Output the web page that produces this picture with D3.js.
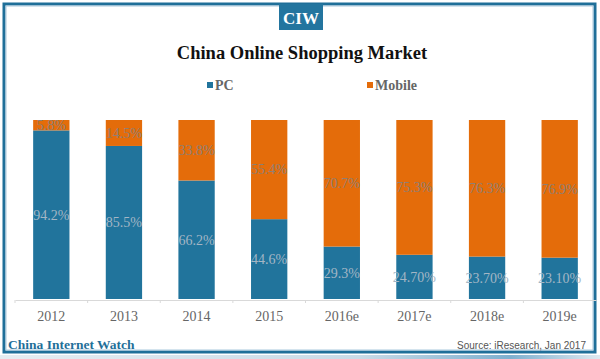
<!DOCTYPE html>
<html><head><meta charset="utf-8">
<script src="https://cdn.jsdelivr.net/npm/d3@7"></script>
<style>body{margin:0;background:#fff}svg{display:block}</style>
</head><body>
<svg id="c" width="600" height="359"></svg>
<script>
const categories = ["2012","2013","2014","2015","2016e","2017e","2018e","2019e"];
const pcValues = [94.2,85.5,66.2,44.6,29.3,24.7,23.7,23.1];
const mobileValues = [5.8,14.5,33.8,55.4,70.7,75.3,76.3,76.9];
const pcLabels = ["94.2%","85.5%","66.2%","44.6%","29.3%","24.70%","23.70%","23.10%"];
const mobileLabels = ["5.8%","14.5%","33.8%","55.4%","70.7%","75.3%","76.3%","76.9%"];
const seriesNames = ["PC","Mobile"];

const blue = "#21749c", orange = "#e46c0a";
const svg = d3.select("#c");
const serif = "'Liberation Serif','DejaVu Serif',serif";

// bottom faded strip
const defs = svg.append("defs");
const g1 = defs.append("linearGradient").attr("id","strip");
g1.append("stop").attr("offset","0").attr("stop-color","#e6edf2");
g1.append("stop").attr("offset","0.6").attr("stop-color","#c9dbe7");
g1.append("stop").attr("offset","0.85").attr("stop-color","#7fb0cf");
g1.append("stop").attr("offset","1").attr("stop-color","#dfe9f0");
svg.append("rect").attr("x",0).attr("y",355).attr("width",600).attr("height",4).attr("fill","url(#strip)");

// frame
svg.append("rect").attr("x",4).attr("y",4).attr("width",591).attr("height",348)
  .attr("fill","#fff").attr("stroke","#1f6f99").attr("stroke-width",3);
svg.append("rect").attr("x",6).attr("y",6).attr("width",587).attr("height",344)
  .attr("fill","none").attr("stroke","#a9c8dc").attr("stroke-width",1);

// CIW badge
svg.append("rect").attr("x",279).attr("y",4).attr("width",44).attr("height",26).attr("fill","#23759f");
svg.append("text").attr("x",301).attr("y",24).attr("text-anchor","middle")
  .attr("font-family",serif).attr("font-weight","bold").attr("font-size",17).attr("fill","#fff").text("CIW");

// title
svg.append("text").attr("x",302).attr("y",59).attr("text-anchor","middle")
  .attr("font-family",serif).attr("font-weight","bold").attr("font-size",18.5).attr("fill","#111")
  .text("China Online Shopping Market");

// legend
const legendX = [207,367];
const legendColors = [blue, orange];
seriesNames.forEach((n,i)=>{
  svg.append("rect").attr("x",legendX[i]).attr("y",82).attr("width",6).attr("height",6).attr("fill",legendColors[i]);
  svg.append("text").attr("x",legendX[i]+8).attr("y",90).attr("font-family",serif).attr("font-weight","bold")
    .attr("font-size",14).attr("fill","#666").text(n);
});

// scales
const x = d3.scaleBand().domain(categories).range([15,596]).paddingInner(0.5).paddingOuter(0.25);
const y = d3.scaleLinear().domain([0,100]).range([299,120]);

const data = categories.map((c,i)=>({c, pc:pcValues[i], mob:mobileValues[i], pl:pcLabels[i], ml:mobileLabels[i]}));

const g = svg.append("g");
g.selectAll("rect.pc").data(data).join("rect").attr("class","pc")
  .attr("x",d=>x(d.c)).attr("width",x.bandwidth())
  .attr("y",d=>y(d.pc)).attr("height",d=>y(0)-y(d.pc)).attr("fill",blue);
g.selectAll("rect.mob").data(data).join("rect").attr("class","mob")
  .attr("x",d=>x(d.c)).attr("width",x.bandwidth())
  .attr("y",d=>y(d.pc+d.mob)).attr("height",d=>y(d.pc)-y(d.pc+d.mob)).attr("fill",orange);

g.selectAll("text.pcl").data(data).join("text").attr("class","pcl")
  .attr("x",d=>x(d.c)+x.bandwidth()/2).attr("y",d=>(y(0)+y(d.pc))/2).attr("dy","0.35em")
  .attr("text-anchor","middle").attr("font-family",serif).attr("font-size",14).attr("fill","#a3b6c5")
  .text(d=>d.pl);
g.selectAll("text.ml").data(data).join("text").attr("class","ml")
  .attr("x",d=>x(d.c)+x.bandwidth()/2).attr("y",d=>(y(d.pc)+y(d.pc+d.mob))/2).attr("dy","0.35em")
  .attr("text-anchor","middle").attr("font-family",serif).attr("font-size",14).attr("fill","#8e7f74")
  .text(d=>d.ml);

// axis
const ax = svg.append("g").attr("transform","translate(0,300)")
  .call(d3.axisBottom(x).tickSize(0).tickPadding(11));
ax.select(".domain").attr("stroke","#d9d9d9");
ax.selectAll(".tick text").attr("font-family",serif).attr("font-size",14).attr("fill","#666");
const step = x.step();
const tickXs = d3.range(categories.length).map(i=>15+i*step);
ax.selectAll("line.sep").data(tickXs).join("line").attr("class","sep")
  .attr("x1",d=>d).attr("x2",d=>d).attr("y1",0).attr("y2",3).attr("stroke","#d9d9d9");

// footer
svg.append("text").attr("x",8).attr("y",349).attr("font-family",serif).attr("font-weight","bold")
  .attr("font-size",13.5).attr("fill","#1f6f99").text("China Internet Watch");
svg.append("text").attr("x",586).attr("y",349).attr("text-anchor","end").attr("font-family","'Liberation Sans',Arial,sans-serif")
  .attr("font-size",10).attr("fill","#555").text("Source: iResearch, Jan 2017");
</script>
</body></html>
